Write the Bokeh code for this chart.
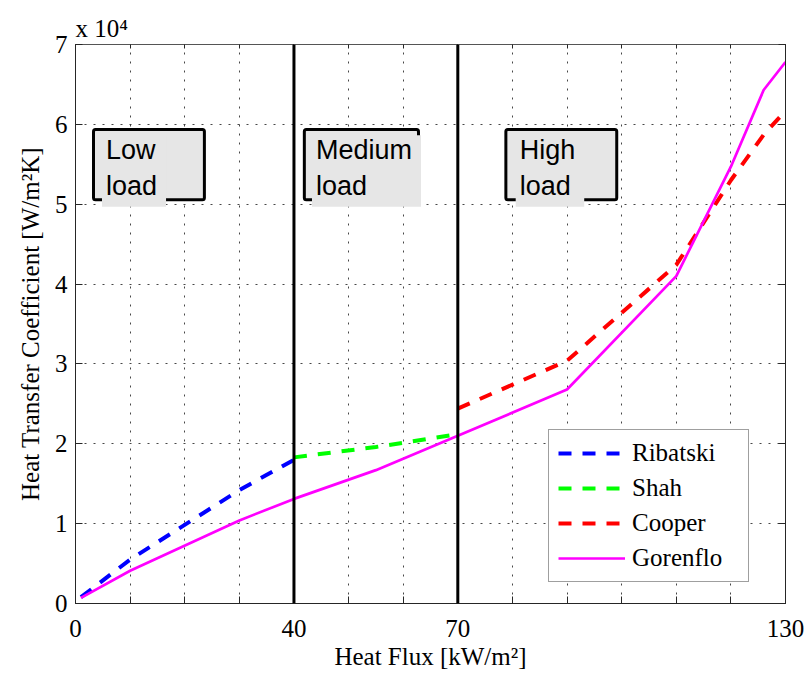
from bokeh.plotting import figure
from bokeh.models import (FixedTicker, LinearAxis, Range1d, Span, BoxAnnotation,
                          Label, Legend, LegendItem, Title)
from bokeh.embed import file_html
from bokeh.resources import INLINE

# Heat flux [kW/m²] and heat transfer coefficient [W/m²K] for each correlation
ribatski_q = [1, 10, 30, 40]
ribatski_h = [800, 5500, 14200, 18000]
shah_q = [40, 55, 70]
shah_h = [18300, 19600, 21200]
cooper_q = [70, 90, 110, 120, 126, 130]
cooper_h = [24400, 30400, 42400, 53000, 58700, 61700]
gorenflo_q = [1, 10, 30, 40, 55, 70, 90, 110, 120, 126, 130]
gorenflo_h = [700, 4100, 10400, 13100, 16700, 21000, 26800, 41000, 54700, 64300, 67800]

# Load-regime boundaries and names
load_bounds = [40, 70]
load_names = ["Low\nload", "Medium\nload", "High\nload"]

# Axis ticks
x_tick_values = [0, 40, 70, 130]
x_grid_values = list(range(0, 131, 10))
y_tick_values = list(range(0, 70001, 10000))
y_tick_labels = [str(v // 10000) for v in y_tick_values]

SERIF = "Liberation Serif"
SANS = "Liberation Sans"
DARK = "#262626"

p = figure(width=808, height=677,
           x_range=Range1d(0, 130), y_range=Range1d(0, 70000),
           output_backend="svg", toolbar_location=None,
           min_border_left=75, min_border_right=23,
           min_border_top=44, min_border_bottom=74,
           background_fill_color="white", border_fill_color="white")
p.outline_line_color = DARK
p.outline_line_width = 1

# Axes: ticks point inwards, labels only at selected heat fluxes
p.xaxis.ticker = FixedTicker(ticks=x_tick_values, minor_ticks=x_grid_values)
p.yaxis.ticker = FixedTicker(ticks=y_tick_values)
p.yaxis.major_label_overrides = {v: s for v, s in zip(y_tick_values, y_tick_labels)}

for ax in (p.xaxis[0], p.yaxis[0]):
    ax.major_tick_in = 7
    ax.major_tick_out = 0
    ax.minor_tick_in = 7
    ax.minor_tick_out = 0
    ax.axis_line_color = DARK
    ax.major_tick_line_color = DARK
    ax.minor_tick_line_color = DARK
    ax.major_label_text_font = SERIF
    ax.major_label_text_font_size = "25px"
    ax.major_label_text_color = "black"
    ax.axis_label_text_font = SERIF
    ax.axis_label_text_font_size = "25px"
    ax.axis_label_text_font_style = "normal"
    ax.axis_label_text_color = "black"

p.xaxis.axis_label = "Heat Flux [kW/m²]"
p.xaxis.major_label_standoff = 16
p.xaxis.axis_label_standoff = 3
p.yaxis.axis_label = "Heat Transfer Coefficient [W/m²K]"
p.yaxis.major_label_standoff = 8
p.yaxis.axis_label_standoff = 8

# Tick marks on the right and top sides of the box
rax = LinearAxis(ticker=FixedTicker(ticks=y_tick_values))
rax.major_tick_in = 7
rax.major_tick_out = 0
rax.axis_line_color = DARK
rax.major_tick_line_color = DARK
rax.major_label_overrides = {v: "" for v in y_tick_values}
rax.major_label_text_font_size = "1px"
rax.major_label_standoff = 0
p.add_layout(rax, "right")

tax = LinearAxis(ticker=FixedTicker(ticks=x_tick_values, minor_ticks=x_grid_values))
tax.major_tick_in = 4
tax.major_tick_out = 0
tax.minor_tick_in = 4
tax.minor_tick_out = 0
tax.axis_line_color = "#555555"
tax.major_tick_line_color = DARK
tax.minor_tick_line_color = DARK
tax.major_label_overrides = {v: "" for v in x_tick_values}
tax.major_label_text_font_size = "1px"
tax.major_label_standoff = 0
p.add_layout(tax, "above")

# Exponent of the y axis, written above the top-left corner
p.add_layout(Title(text="x 10⁴", align="left", text_font=SERIF, text_font_size="25px",
                   text_font_style="normal", text_color="black", standoff=6, offset=0),
             "above")

# Dotted grid every 10 kW/m² and every 1e4 W/m²K
p.xgrid.ticker = FixedTicker(ticks=x_grid_values)
p.ygrid.ticker = FixedTicker(ticks=y_tick_values)
for g in (p.xgrid[0], p.ygrid[0]):
    g.grid_line_color = "#333333"
    g.grid_line_dash = "2 7"
    g.grid_line_width = 1
    g.grid_line_alpha = 0.9

# Correlation curves
r1 = p.line(ribatski_q, ribatski_h, line_color="#0000ff", line_width=4, line_dash="13 11")
r2 = p.line(shah_q, shah_h, line_color="#00ff00", line_width=4, line_dash="13 11")
r3 = p.line(cooper_q, cooper_h, line_color="#ff0000", line_width=4, line_dash="13 11")
r4 = p.line(gorenflo_q, gorenflo_h, line_color="#ff00ff", line_width=2.7)

# Load-regime boundaries
for q in load_bounds:
    p.add_layout(Span(location=q, dimension="height", line_color="black", line_width=3))

# Regime annotation boxes; the text background hides part of the frame below it
box_specs = [(3.3, 23.6, 4.85), (41.9, 62.8, 43.3), (78.8, 99.1, 80.6)]
for name, (bx0, bx1, tx) in zip(load_names, box_specs):
    p.add_layout(BoxAnnotation(left=bx0, right=bx1, bottom=50550, top=59350,
                               fill_color="#e6e6e6", fill_alpha=1,
                               line_color="black", line_alpha=1, line_width=3,
                               border_radius=2))
    p.add_layout(Label(x=tx, y=58650, text=name, text_align="left", text_baseline="top",
                       text_font=SANS, text_font_size="27px", text_color="black",
                       text_line_height=1.19,
                       background_fill_color="#e6e6e6", background_fill_alpha=1,
                       padding=dict(left=4, right=9, top=0, bottom=6)))

legend = Legend(items=[LegendItem(label="Ribatski", renderers=[r1]),
                       LegendItem(label="Shah", renderers=[r2]),
                       LegendItem(label="Cooper", renderers=[r3]),
                       LegendItem(label="Gorenflo", renderers=[r4])],
                location=(473, 21))
legend.label_text_font = SERIF
legend.label_text_font_size = "25px"
legend.label_text_color = "black"
legend.glyph_width = 67
legend.glyph_height = 20
legend.label_height = 28
legend.label_width = 107
legend.label_standoff = 7
legend.spacing = 7
legend.padding = 9
legend.margin = 0
legend.border_line_color = "#404040"
legend.border_line_width = 1
legend.background_fill_color = "white"
legend.background_fill_alpha = 1
p.add_layout(legend)

open("out.html", "w").write(file_html(p, INLINE))
